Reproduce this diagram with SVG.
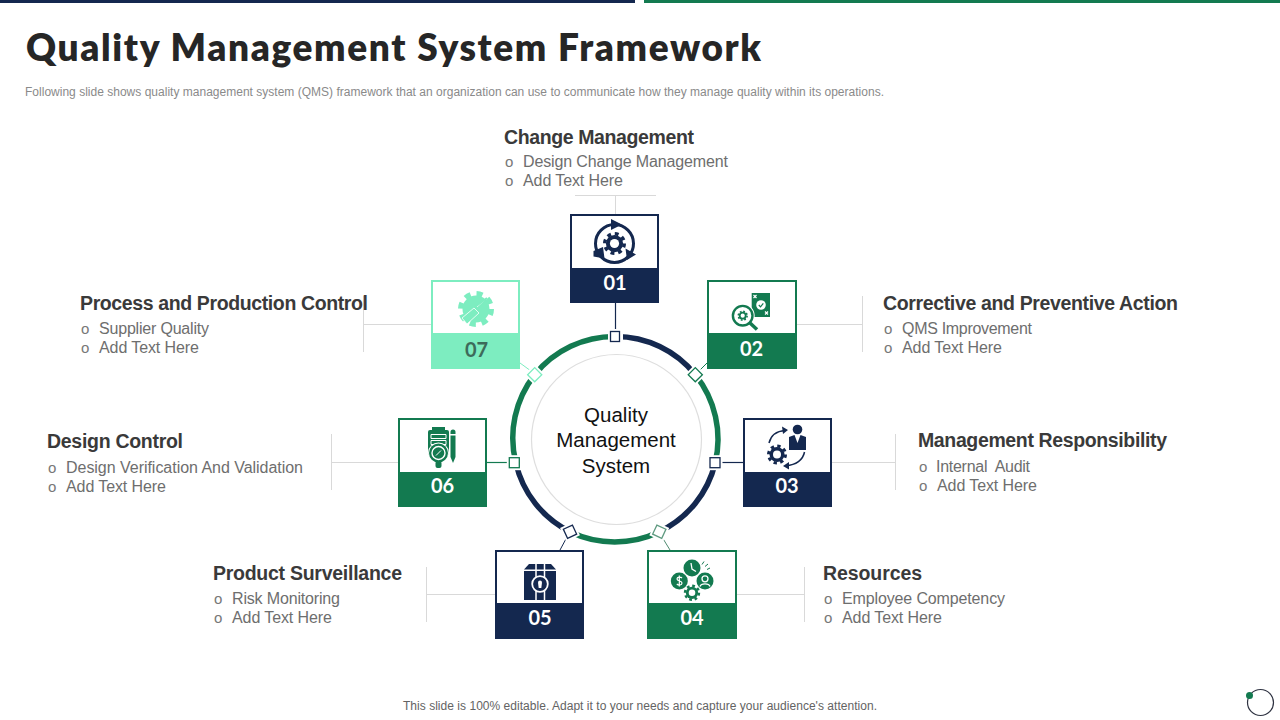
<svg xmlns="http://www.w3.org/2000/svg" xmlns:xlink="http://www.w3.org/1999/xlink" width="1280" height="720" viewBox="0 0 1280 720">
<style>
text{font-family:"Liberation Sans",Arial,sans-serif}
.title{font-family:Lato,"Liberation Sans",sans-serif;font-weight:800;font-size:37px;fill:#262626}
.sub{font-size:12px;fill:#8a8a8a}
.foot{font-size:12px;fill:#636363}
.h{font-size:19.5px;font-weight:700;fill:#3a3a3a}
.b{font-size:16px;fill:#6e6e6e;white-space:pre}
.o{font-size:15px;fill:#777777}
.hub{font-size:20.5px;fill:#111111;text-anchor:middle}
.num{font-family:Lato,"Open Sans",sans-serif;font-weight:700;font-size:20px;fill:#ffffff;text-anchor:middle}
.lead{fill:none;stroke:#d9d9d9;stroke-width:1}
.box{fill:#ffffff;stroke-width:2}
.navy{color:#14284f}.green{color:#137a50}.mint{color:#7dedc0}
.k{fill:none;stroke:currentColor}
.f{fill:currentColor}
.w{fill:#ffffff}
.ws{fill:none;stroke:#ffffff}
.hd{fill:#ffffff;stroke-width:1.3}
.gap{fill:#ffffff}
</style>
<defs>
<g id="gear">
<circle r="8.5" fill="none" stroke="currentColor" stroke-width="3" stroke-dasharray="3.338"/>
<circle r="7.5" fill="currentColor"/>
<circle r="4" fill="#ffffff"/>
</g>
</defs>

<g id="header">
<rect x="0" y="0" width="635" height="3" fill="#14284f"/>
<rect x="644" y="0" width="636" height="3" fill="#137a50"/>
<text class="title" x="26" y="60.500" textLength="735" lengthAdjust="spacing">Quality Management System Framework</text>
<text class="sub" x="25" y="96" textLength="859" lengthAdjust="spacing">Following slide shows quality management system (QMS) framework that an organization can use to communicate how they manage quality within its operations.</text>
</g>

<g id="connectors">
<path class="lead" d="M575 195.500H656M615.500 195.500V214"/>
<path class="lead" d="M797 324.500H862.500M862.500 296V352"/>
<path class="lead" d="M832 462.500H895.500M895.500 434V490"/>
<path class="lead" d="M737 594.500H804.500M804.500 567V622"/>
<path class="lead" d="M495 594.500H426.500M426.500 567V622"/>
<path class="lead" d="M398 462.500H331.500M331.500 434V490"/>
<path class="lead" d="M431 324.500H363.500M363.500 296V352"/>
<path d="M615.500 302V331" stroke="#14284f" stroke-width="1.200" fill="none"/>
<path d="M699 371L707 363" stroke="#137a50" stroke-width="1" fill="none"/>
<path d="M720 462.500H743" stroke="#14284f" stroke-width="1.200" fill="none"/>
<path d="M662 537L670 550" stroke="#4f8a70" stroke-width="1" fill="none"/>
<path d="M567 537L560 550" stroke="#14284f" stroke-width="1" fill="none"/>
<path d="M487 462.500H509" stroke="#137a50" stroke-width="1.200" fill="none"/>
<path d="M520 363L531 371" stroke="#7dedc0" stroke-width="1" fill="none"/>
</g>

<g id="hub">
<circle cx="616.500" cy="439.500" r="85" fill="#ffffff" stroke="#dedede" stroke-width="1.200"/>
<g fill="none" stroke-width="5.500">
<path d="M615.500 336.500A102.500 102.500 0 0 1 695.300 374.700" stroke="#14284f"/>
<path d="M695.300 374.700A102.500 102.500 0 0 1 715.150 463" stroke="#137a50"/>
<path d="M715.150 463A102.500 102.500 0 0 1 659.300 531.700" stroke="#14284f"/>
<path d="M659.300 531.700A102.500 102.500 0 0 1 570 531.700" stroke="#137a50"/>
<path d="M570 531.700A102.500 102.500 0 0 1 515.850 463" stroke="#14284f"/>
<path d="M515.850 463A102.500 102.500 0 0 1 534.700 374.700" stroke="#137a50"/>
<path d="M534.700 374.700A102.500 102.500 0 0 1 615.500 336.500" stroke="#137a50"/>
</g>
<rect class="gap" x="608" y="329" width="15" height="15"/>
<rect class="gap" x="-7.500" y="-7.500" width="15" height="15" transform="translate(695.300 374.700) rotate(45)"/>
<rect class="gap" x="-7.500" y="-7.500" width="15" height="15" transform="translate(715 462.700)"/>
<rect class="gap" x="-7.500" y="-7.500" width="15" height="15" transform="translate(659.300 531.700) rotate(25)"/>
<rect class="gap" x="-7.500" y="-7.500" width="15" height="15" transform="translate(570 531.700) rotate(-25)"/>
<rect class="gap" x="-7.500" y="-7.500" width="15" height="15" transform="translate(514.300 462.700)"/>
<rect class="gap" x="-7.500" y="-7.500" width="15" height="15" transform="translate(534.700 374.700) rotate(45)"/>
<rect class="hd" x="-4.500" y="-4.500" width="9" height="10" stroke="#14284f" transform="translate(615 336)"/>
<rect class="hd" x="-5" y="-5" width="10" height="10" stroke="#137a50" transform="translate(695.300 374.700) rotate(45)"/>
<rect class="hd" x="-5" y="-5" width="10" height="10" stroke="#14284f" transform="translate(715 462.700)"/>
<rect class="hd" x="-5" y="-5" width="10" height="10" stroke="#5f9a80" transform="translate(659.300 531.700) rotate(25)"/>
<rect class="hd" x="-5" y="-5" width="10" height="10" stroke="#14284f" transform="translate(570 531.700) rotate(-25)"/>
<rect class="hd" x="-5" y="-5" width="10" height="10" stroke="#137a50" transform="translate(514.300 462.700)"/>
<rect class="hd" x="-5" y="-5" width="10" height="10" stroke="#7dedc0" transform="translate(534.700 374.700) rotate(45)"/>
<text class="hub" x="616" y="422">Quality</text>
<text class="hub" x="616" y="447">Management</text>
<text class="hub" x="616" y="473">System</text>
</g>

<g id="node-01" class="navy">
<rect class="box" x="571" y="215" width="87" height="87" stroke="currentColor"/>
<rect class="f" x="570" y="268" width="89" height="35"/>
<text class="num" x="615" y="290">01</text>
<circle class="k" cx="614.500" cy="243.500" r="19" stroke-width="3"/>
<path class="f" d="M611 219L622 224.500L611 230ZM636 254.500L627 260L625.500 248.500ZM593.500 251L603 247L604.500 258.500L593.500 256.500Z"/>
<use xlink:href="#gear" href="#gear" transform="translate(614.500 243.500) scale(1.150)"/>
</g>

<g id="node-02" class="green">
<rect class="box" x="708" y="281" width="88" height="87" stroke="currentColor"/>
<rect class="f" x="707" y="333" width="90" height="36"/>
<text class="num" x="751.500" y="355.500">02</text>
<rect class="f" x="751.700" y="293" width="18.300" height="24"/>
<path class="ws" stroke-width="1.200" d="M753.500 295L756.500 298M756.500 295L753.500 298M765 311.500L768 314.500M768 311.500L765 314.500"/>
<circle class="w" cx="761" cy="305" r="4.800"/>
<path d="M758.800 305L760.500 306.800L763.300 303.300" fill="none" stroke="#137a50" stroke-width="1.200"/>
<circle class="w" cx="742.700" cy="315.700" r="12"/>
<circle class="k" cx="742.700" cy="315.700" r="9.800" stroke-width="2.400"/>
<use xlink:href="#gear" href="#gear" transform="translate(742.700 315.700) scale(.52)"/>
<path d="M750 323L757 329.500" stroke="currentColor" stroke-width="3.500" fill="none"/>
</g>

<g id="node-03" class="navy">
<rect class="box" x="744" y="419" width="87" height="87" stroke="currentColor"/>
<rect class="f" x="743" y="472" width="89" height="35"/>
<text class="num" x="787" y="493">03</text>
<circle class="f" cx="797.500" cy="429.500" r="4.800"/>
<path class="f" d="M789 437L794.500 435L797.500 443L800.500 435L806 437V450H789Z"/>
<use xlink:href="#gear" href="#gear" transform="translate(777 454.500)"/>
<path class="k" stroke-width="1.500" d="M769 443C771 435 777 431 785 430.500M804.500 452C803 460 796 465 786 465.500"/>
<path class="f" d="M788 430L782 426.500L783 434ZM783 466L789 462L789 469.500Z"/>
</g>

<g id="node-04" class="green">
<rect class="box" x="648" y="551" width="88" height="87" stroke="currentColor"/>
<rect class="f" x="647" y="603" width="90" height="36"/>
<text class="num" x="692" y="625">04</text>
<circle class="f" cx="692" cy="568" r="8.500"/>
<path class="ws" stroke-width="1.300" d="M691 563L692 569L696 571.500"/>
<circle class="f" cx="679.300" cy="581" r="8.500"/>
<path class="ws" stroke-width="1.200" d="M682 578C680.500 576.500 677 577 677 579C677 581.500 682 580.500 682 583C682 585.500 678.500 585.500 676.800 584M679.300 575.500V586.500"/>
<circle class="f" cx="705" cy="581" r="8.500"/>
<circle class="ws" cx="705" cy="578.800" r="3" stroke-width="1.300"/>
<path class="ws" stroke-width="1.300" d="M700 586.500C701 583 709 583 710 586.500"/>
<use xlink:href="#gear" href="#gear" transform="translate(692 592.800) scale(.82)"/>
<path class="k" stroke-width="1" d="M702 564.500L704 561.500M705 566.500L708 564M707 569.500L710 568"/>
</g>

<g id="node-05" class="navy">
<rect class="box" x="496" y="551" width="87" height="87" stroke="currentColor"/>
<rect class="f" x="495" y="603" width="89" height="36"/>
<text class="num" x="540" y="625">05</text>
<path class="f" d="M529 564H551L556 569.500H524Z"/>
<rect class="f" x="524" y="571" width="32" height="29"/>
<path class="ws" stroke-width="1.500" d="M536 564V600M544.500 564V600"/>
<circle class="f" cx="540" cy="584" r="8"/>
<circle class="ws" cx="540" cy="584" r="7.800" stroke-width="1.800"/>
<path class="w" d="M538 582.500A2 2 0 1 1 542 582.500L541.300 588H538.700Z"/>
</g>

<g id="node-06" class="green">
<rect class="box" x="399" y="419" width="87" height="87" stroke="currentColor"/>
<rect class="f" x="398" y="472" width="89" height="35"/>
<text class="num" x="442.500" y="493">06</text>
<rect class="f" x="432" y="427" width="13" height="4"/>
<rect class="f" x="428" y="430" width="21" height="25" rx="2"/>
<path class="ws" stroke-width="1" d="M431 434.500H446V438.500H431ZM431 440.500H446V444.500H431Z"/>
<circle class="w" cx="438.500" cy="453" r="10.500"/>
<circle class="f" cx="438.500" cy="453" r="9.500"/>
<circle class="ws" cx="438.500" cy="453" r="6.500" stroke-width="1.400"/>
<path class="ws" stroke-width="1" d="M436 455.500L441 450.500"/>
<rect class="f" x="435.500" y="461" width="6" height="7" rx="2"/>
<path class="f" d="M450.500 432A2.500 2.500 0 0 1 455.500 432V434H450.500ZM450.500 435.500H455.500V457L453 463L450.500 457Z"/>
</g>

<g id="node-07" class="mint">
<rect class="box" x="432" y="281" width="87" height="87" stroke="currentColor"/>
<rect class="f" x="431" y="333" width="89" height="36"/>
<text class="num" x="476.500" y="357" style="fill:#3d6b5b">07</text>
<circle cx="476" cy="309" r="14.500" fill="none" stroke="currentColor" stroke-width="7" stroke-dasharray="5.700"/>
<circle class="f" cx="476" cy="309" r="13.500"/>
<path d="M491 294L477 307" stroke="#ffffff" stroke-width="1" fill="none"/>
<path d="M475 307L487 298" stroke="#7dedc0" stroke-width="2" fill="none"/>
<path d="M462 318L474 308L479 313L467 324Z" fill="#7dedc0" stroke="#ffffff" stroke-width=".8"/>
</g>

<g id="label-01">
<text class="h" x="504" y="144" textLength="190">Change Management</text>
<text class="o" x="505" y="167">o</text><text class="b" x="523" y="167" textLength="205">Design Change Management</text>
<text class="o" x="505" y="186">o</text><text class="b" x="523" y="186" textLength="100">Add Text Here</text>
</g>
<g id="label-02">
<text class="h" x="883" y="310" textLength="295">Corrective and Preventive Action</text>
<text class="o" x="884" y="334">o</text><text class="b" x="902" y="334" textLength="130">QMS Improvement</text>
<text class="o" x="884" y="353">o</text><text class="b" x="902" y="353" textLength="100">Add Text Here</text>
</g>
<g id="label-03">
<text class="h" x="918" y="447" textLength="249">Management Responsibility</text>
<text class="o" x="919" y="472">o</text><text class="b" x="936" y="472" textLength="94">Internal  Audit</text>
<text class="o" x="919" y="491">o</text><text class="b" x="937" y="491" textLength="100">Add Text Here</text>
</g>
<g id="label-04">
<text class="h" x="823" y="580" textLength="99">Resources</text>
<text class="o" x="824" y="604">o</text><text class="b" x="842" y="604" textLength="163">Employee Competency</text>
<text class="o" x="824" y="623">o</text><text class="b" x="842" y="623" textLength="100">Add Text Here</text>
</g>
<g id="label-05">
<text class="h" x="213" y="580" textLength="189">Product Surveillance</text>
<text class="o" x="214" y="604">o</text><text class="b" x="232" y="604" textLength="108">Risk Monitoring</text>
<text class="o" x="214" y="623">o</text><text class="b" x="232" y="623" textLength="100">Add Text Here</text>
</g>
<g id="label-06">
<text class="h" x="47" y="448" textLength="136">Design Control</text>
<text class="o" x="48" y="473">o</text><text class="b" x="66" y="473" textLength="237">Design Verification And Validation</text>
<text class="o" x="48" y="492">o</text><text class="b" x="66" y="492" textLength="100">Add Text Here</text>
</g>
<g id="label-07">
<text class="h" x="80" y="310" textLength="288">Process and Production Control</text>
<text class="o" x="81" y="334">o</text><text class="b" x="99" y="334" textLength="110">Supplier Quality</text>
<text class="o" x="81" y="353">o</text><text class="b" x="99" y="353" textLength="100">Add Text Here</text>
</g>

<g id="footer">
<text class="foot" x="403" y="710" textLength="474">This slide is 100% editable. Adapt it to your needs and capture your audience's attention.</text>
<circle cx="1260.500" cy="702.500" r="13" fill="#ffffff" stroke="#2f3342" stroke-width="1.200"/>
<circle cx="1249.500" cy="695.500" r="3.500" fill="#137a50"/>
</g>
</svg>
